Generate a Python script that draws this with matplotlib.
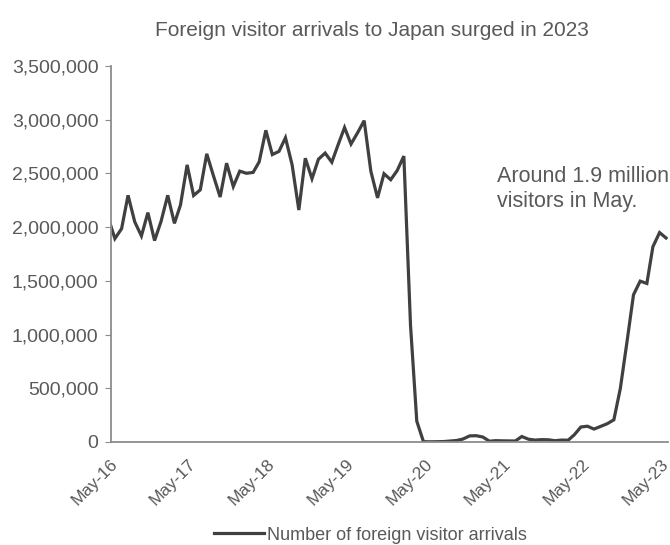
import matplotlib
matplotlib.use("Agg")
import matplotlib.pyplot as plt
import matplotlib.dates as mdates
import pandas as pd
import numpy as np

plt.rcParams['font.family'] = ['Liberation Sans', 'DejaVu Sans']

# Monthly foreign visitor arrivals to Japan, Apr 2016 - May 2023
months = pd.date_range('2016-04-01', '2023-05-01', freq='MS')
arrivals = [
    2081700,
    1893000, 1985000, 2296000, 2049000, 1918000, 2135000, 1875000, 2053000,
    2296000, 2035000, 2205000, 2579000, 2294000, 2347000, 2682000, 2478000,
    2280000, 2595000, 2378000, 2521000,
    2501000, 2509000, 2607000, 2901000, 2675000, 2705000, 2832000, 2578000,
    2159000, 2641000, 2451000, 2632000,
    2689000, 2604000, 2760000, 2927000, 2773000, 2880000, 2991000, 2520000,
    2272000, 2497000, 2441000, 2526000,
    2661000, 1085000, 193700, 2900, 1700, 2600, 3800, 8700,
    13700, 27400, 56700, 58700,
    46500, 7400, 12300, 10900, 10000, 9300, 51100, 25900,
    17700, 22100, 20700, 12100,
    17800, 16700, 66100, 139500, 147000, 120400, 144500, 169900,
    206600, 498600, 934500, 1370100,
    1497300, 1475500, 1817500, 1949100, 1898900,
]
series_name = 'Number of foreign visitor arrivals'
title = 'Foreign visitor arrivals to Japan surged in 2023'
note = 'Around 1.9 million\nvisitors in May.'

line_color = '#404040'
axis_color = '#8c8c8c'
text_color = '#595959'

fig = plt.figure(figsize=(6.7, 5.45), dpi=100)
ax = fig.add_axes([0.1657, 0.189, 0.997 - 0.1657, 0.879 - 0.189])

ax.plot(months, arrivals, color=line_color, lw=2.3, label=series_name,
        solid_joinstyle='miter')

ax.set_ylim(0, 3500000)
ax.set_yticks(np.arange(0, 3500001, 500000))
ax.yaxis.set_major_formatter(matplotlib.ticker.FuncFormatter(lambda v, p: f'{int(v):,}'))

ax.set_xlim(pd.Timestamp('2016-04-13'), pd.Timestamp('2023-05-10'))
ax.set_xticks(pd.date_range('2016-05-01', '2023-05-01', freq='12MS'))
ax.xaxis.set_major_formatter(mdates.DateFormatter('%b-%y'))

for s in ['top', 'right']:
    ax.spines[s].set_visible(False)
for s in ['left', 'bottom']:
    ax.spines[s].set_color(axis_color)
    ax.spines[s].set_linewidth(1.3)

ax.tick_params(axis='y', length=4, color=axis_color, labelsize=14, labelcolor=text_color, pad=5)
ax.tick_params(axis='x', length=0, labelsize=12.5, labelcolor=text_color, pad=14)
for lbl in ax.get_xticklabels():
    lbl.set_rotation(45)
    lbl.set_ha('right')
    lbl.set_va('center')
    lbl.set_rotation_mode('anchor')

ax.text(0.693, 0.735, note, transform=ax.transAxes, ha='left', va='top',
        fontsize=15.5, color=text_color, linespacing=1.25)

fig.text(0.555, 0.944, title, ha='center', va='center', fontsize=15, color=text_color)

fig.legend(loc='center', bbox_to_anchor=(0.553, 0.018), frameon=False,
           fontsize=13, labelcolor=text_color, handlelength=2.8, handletextpad=0.15,
           borderaxespad=0.0)

fig.savefig('out.png', dpi=100)
